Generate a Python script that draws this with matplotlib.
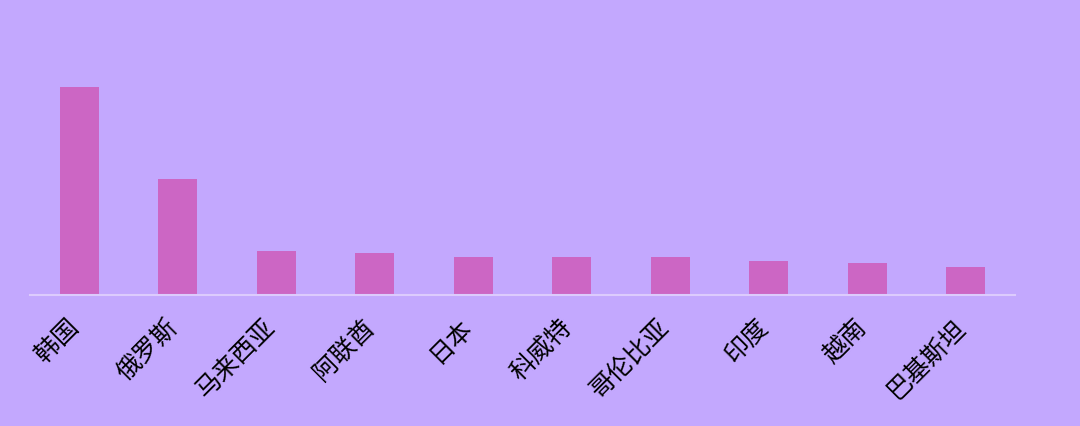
import matplotlib
matplotlib.use("Agg")
import matplotlib.pyplot as plt
import matplotlib.transforms as mtransforms

plt.rcParams['font.family'] = ['Noto Sans CJK SC', 'DejaVu Sans']

countries = ['韩国', '俄罗斯', '马来西亚', '阿联酋', '日本', '科威特', '哥伦比亚', '印度', '越南', '巴基斯坦']
values = [208, 116, 44, 42, 38, 38, 38, 34, 32, 28]

bg = '#c3a8fe'
bar_color = '#cc66c4'

fig = plt.figure(figsize=(10.8, 4.26), dpi=100, facecolor=bg)
ax = fig.add_axes([30 / 1080, 131 / 426, 985 / 1080, 295 / 426])
ax.set_facecolor(bg)

x = list(range(len(countries)))
ax.bar(x, values, width=0.4, color=bar_color, zorder=2)

ax.set_xlim(-0.5, len(countries) - 0.5)
ax.set_ylim(0, max(values) * 295 / 208)

for side in ['top', 'right', 'left']:
    ax.spines[side].set_visible(False)
ax.spines['bottom'].set_color('#dccbfd')
ax.spines['bottom'].set_linewidth(1.5)

ax.set_yticks([])
ax.set_xticks(x)
ax.set_xticklabels(countries, rotation=45, ha='right', fontsize=18,
                   fontweight='medium', color='black')
ax.tick_params(axis='x', length=0, pad=14)
shift = mtransforms.ScaledTranslation(5 / 100, 0, fig.dpi_scale_trans)
for lbl in ax.get_xticklabels():
    lbl.set_transform(lbl.get_transform() + shift)

fig.savefig('out.png', dpi=100, facecolor=bg)
